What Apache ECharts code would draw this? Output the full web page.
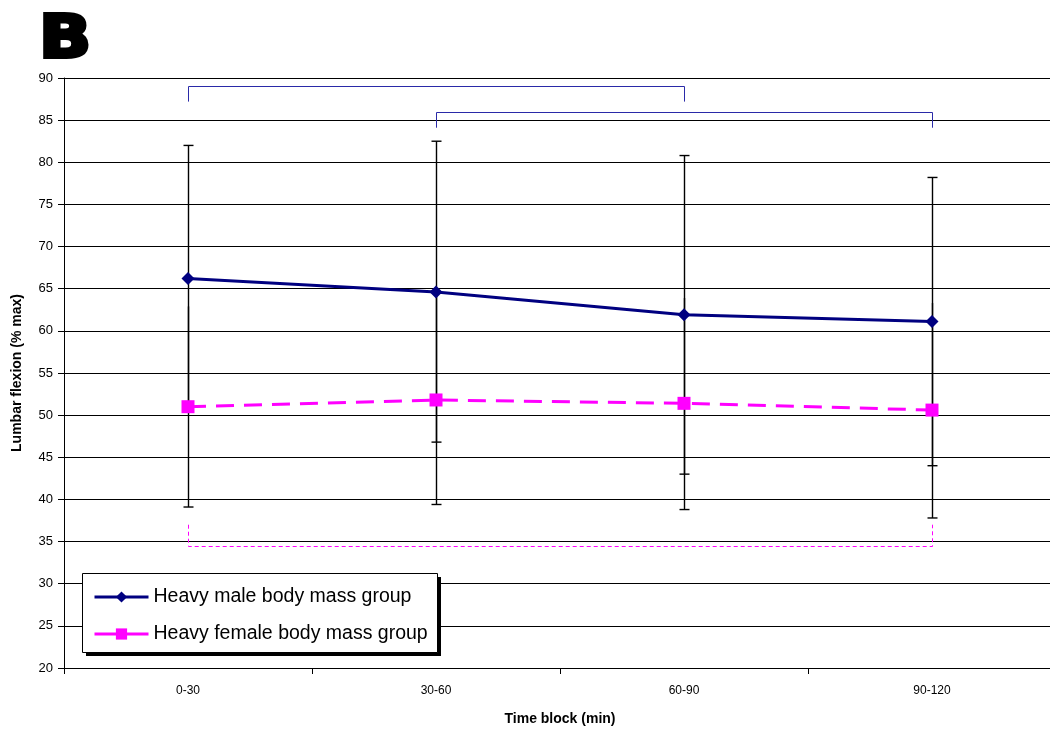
<!DOCTYPE html>
<html>
<head>
<meta charset="utf-8">
<script src="https://cdn.jsdelivr.net/npm/echarts@6/dist/echarts.min.js"></script>
<style>
html,body{margin:0;padding:0;background:#fff;overflow:hidden;}
#chart{width:1056px;height:733px;}
</style>
</head>
<body>
<div id="chart"></div>
<script>
const categories = ['0-30', '30-60', '60-90', '90-120'];
const yTicks = [20, 90, 5];
const maleName = 'Heavy male body mass group';
const femaleName = 'Heavy female body mass group';
const maleMean = [66.2, 64.6, 61.9, 61.1];
const maleUpper = [82.0, 82.5, 80.8, 78.2];
const maleLower = [50.4, 46.8, 43.0, 44.0];
const femaleMean = [51.0, 51.8, 51.4, 50.6];
const femaleUpper = [62.9, 64.2, 63.9, 63.3];
const femaleLower = [39.1, 39.4, 38.8, 37.8];
// brackets: [startCategoryIndex, endCategoryIndex, barLevel, tickEndLevel]
const maleBrackets = [[0, 2, 89.0, 87.2], [1, 3, 86.0, 84.1]];
const femaleBrackets = [[0, 3, 34.5, 37.0]];

const FONT = 'Liberation Sans, Arial, sans-serif';

function errData(mean, lo, hi) {
  return mean.map((m, i) => [i, m, lo[i], hi[i]]);
}

function errRender(capTop, capBottom) {
  return function (params, api) {
    const x = api.value(0);
    const pLo = api.coord([x, api.value(2)]);
    const pHi = api.coord([x, api.value(3)]);
    const cw = 5;
    const xx = Math.round(pLo[0]) + 0.5;
    const children = [{
      type: 'line',
      shape: { x1: xx, y1: pLo[1], x2: xx, y2: pHi[1] },
      style: { stroke: '#000', lineWidth: 1.4 }
    }];
    if (capTop) children.push({
      type: 'line',
      shape: { x1: xx - cw, y1: pHi[1], x2: xx + cw, y2: pHi[1] },
      style: { stroke: '#000', lineWidth: 1.4 }
    });
    if (capBottom) children.push({
      type: 'line',
      shape: { x1: xx - cw, y1: pLo[1], x2: xx + cw, y2: pLo[1] },
      style: { stroke: '#000', lineWidth: 1.4 }
    });
    return { type: 'group', children: children };
  };
}

function bracketRender(color, dash) {
  return function (params, api) {
    const a = api.coord([api.value(0), api.value(2)]);
    const b = api.coord([api.value(1), api.value(2)]);
    const at = api.coord([api.value(0), api.value(3)]);
    const bt = api.coord([api.value(1), api.value(3)]);
    const st = { stroke: color, lineWidth: 1, lineDash: dash, fill: null };
    return {
      type: 'polyline',
      shape: { points: [[Math.round(at[0]) + 0.5, at[1]], [Math.round(a[0]) + 0.5, Math.round(a[1]) + 0.5], [Math.round(b[0]) + 0.5, Math.round(b[1]) + 0.5], [Math.round(bt[0]) + 0.5, bt[1]]] },
      style: st
    };
  };
}

const chart = echarts.init(document.getElementById('chart'));
chart.setOption({
  animation: false,
  backgroundColor: '#fff',
  graphic: [
    {
      type: 'text', left: 37, top: 10, scaleX: 1.15,
      style: { text: 'B', font: '900 59px "DejaVu Sans", sans-serif', fill: '#000', stroke: '#000', lineWidth: 4 }
    },
    {
      type: 'rect', left: 86, top: 577, z: 10,
      shape: { width: 355, height: 79 },
      style: { fill: '#000' }
    },
    {
      type: 'rect', left: 82, top: 573, z: 11,
      shape: { width: 355, height: 79 },
      style: { fill: '#fff', stroke: '#000', lineWidth: 1 }
    }
  ],
  grid: { left: 64, right: 0, top: 78, bottom: 65 },
  legend: {
    orient: 'vertical',
    left: 93, top: 586, z: 20,
    data: [maleName, femaleName],
    itemWidth: 54, itemHeight: 14, itemGap: 15,
    padding: 0,
    lineStyle: { width: 3, type: 'solid' },
    textStyle: { fontFamily: FONT, fontSize: 19.5, color: '#000', lineHeight: 22 }
  },
  xAxis: {
    type: 'category',
    data: categories,
    boundaryGap: true,
    axisLine: { lineStyle: { color: '#000', width: 1 } },
    axisTick: { show: true, length: 6, inside: false, lineStyle: { color: '#000' } },
    axisLabel: { fontFamily: FONT, fontSize: 12, color: '#000', margin: 17 },
    name: 'Time block (min)', nameLocation: 'middle', nameGap: 44,
    nameTextStyle: { fontFamily: FONT, fontSize: 14, fontWeight: 'bold', color: '#000' },
    splitLine: { show: false }
  },
  yAxis: {
    type: 'value', min: yTicks[0], max: yTicks[1], interval: yTicks[2],
    axisLine: { show: true, lineStyle: { color: '#000', width: 1 } },
    axisTick: { show: true, length: 6, lineStyle: { color: '#000' } },
    axisLabel: { fontFamily: FONT, fontSize: 13, color: '#000', margin: 11 },
    splitLine: { show: true, lineStyle: { color: '#000', width: 1 } },
    name: 'Lumbar flexion (% max)', nameLocation: 'middle', nameGap: 40, nameRotate: 90,
    nameTextStyle: { fontFamily: FONT, fontSize: 14, fontWeight: 'bold', color: '#000' }
  },
  series: [
    {
      type: 'custom', name: 'maleErr', renderItem: errRender(true, true),
      data: errData(maleMean, maleLower, maleUpper), z: 3, silent: true
    },
    {
      type: 'custom', name: 'femaleErr', renderItem: errRender(false, true),
      data: errData(femaleMean, femaleLower, femaleUpper), z: 3, silent: true
    },
    {
      type: 'custom', name: 'maleBr', renderItem: bracketRender('#2a2aa8', null),
      data: maleBrackets, z: 3, silent: true
    },
    {
      type: 'custom', name: 'femaleBr', renderItem: bracketRender('#ff00ff', [4, 3]),
      data: femaleBrackets, z: 3, silent: true
    },
    {
      type: 'line', name: maleName, data: maleMean, z: 5,
      symbol: 'diamond', symbolSize: 13,
      itemStyle: { color: '#000080' },
      lineStyle: { color: '#000080', width: 3 }
    },
    {
      type: 'line', name: femaleName, data: femaleMean, z: 5,
      symbol: 'rect', symbolSize: 13,
      itemStyle: { color: '#ff00ff' },
      lineStyle: { color: '#ff00ff', width: 3, type: [18, 10] }
    }
  ]
});
</script>
</body>
</html>
